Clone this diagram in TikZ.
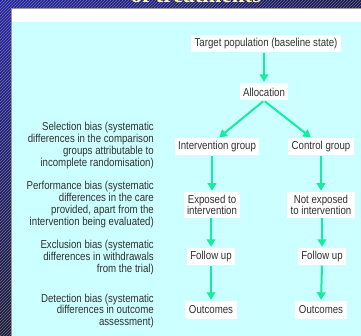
\documentclass[tikz,border=0pt]{standalone}
\usepackage{fontspec}
\newfontfamily\narrowsans{Liberation Sans}[FakeStretch=0.84]
\newfontfamily\titleserif{Liberation Serif}
\usetikzlibrary{arrows.meta,patterns,calc}
\definecolor{panelcyan}{RGB}{204,255,255}
\definecolor{navytop}{RGB}{36,36,196}
\definecolor{navybot}{RGB}{26,26,64}
\definecolor{navyright}{RGB}{22,22,86}
\definecolor{arrowgreen}{RGB}{22,236,160}
\definecolor{txtgray}{RGB}{48,48,48}
\definecolor{titleyellow}{RGB}{255,255,150}
\tikzset{
  boxnode/.style={fill=white, inner xsep=3.5pt, inner ysep=2.5pt, minimum height=17pt,
    align=center, text=txtgray, font=\narrowsans\fontsize{11.5}{11.7}\selectfont},
  biasnote/.style={anchor=east, inner sep=0pt, align=right, text=txtgray,
    font=\narrowsans\fontsize{11.5}{11.7}\selectfont},
  flowarrow/.style={draw=arrowgreen, line width=2pt,
    -{Triangle[length=7.5pt,width=8.5pt]}, shorten >=1.5pt}
}
\begin{document}
\begin{tikzpicture}[x=1pt,y=-1pt]
\useasboundingbox (0,0) rectangle (361,336);
% background
\shade[top color=navytop, bottom color=navybot] (0,0) rectangle (361,336);
\shade[left color=navytop, right color=navyright] (0,0) rectangle (361,8);
\fill[pattern=north east lines, pattern color=black!55] (0,0) rectangle (361,336);
\node[anchor=base, text=titleyellow, inner sep=0pt,
  font=\titleserif\bfseries\fontsize{23}{23}\selectfont] (title) at (196,3) {of treatments};
\fill[white] (11,8) rectangle (361,22);
\fill[panelcyan] (11,22) rectangle (361,336);
\draw[gray!80, line width=0.8pt] (11,336) -- (11,8) -- (361,8);

% flow nodes
\node[boxnode] (tp) at (266,44) {Target population (baseline state)};
\node[boxnode] (al) at (264,92) {Allocation};
\node[boxnode] (ig) at (217,147) {Intervention group};
\node[boxnode] (cg) at (321,147) {Control group};
\node[boxnode] (ex) at (212,205) {Exposed to\\intervention};
\node[boxnode] (nex) at (321,205) {Not exposed\\to intervention};
\node[boxnode] (fu1) at (211,257) {Follow up};
\node[boxnode] (fu2) at (322,257) {Follow up};
\node[boxnode] (oc1) at (211,310) {Outcomes};
\node[boxnode] (oc2) at (321,310) {Outcomes};

\coordinate (igend) at ($(ig.north)+(1,0)$);
\coordinate (cgend) at ($(cg.north)+(-9,0)$);

\draw[flowarrow] (tp.south -| al.north) -- (al.north);
\draw[flowarrow, shorten <=1pt] (al.south) -- (igend);
\draw[flowarrow, shorten <=1pt] (al.south) -- (cgend);
\draw[flowarrow] (ex.north |- ig.south) -- (ex.north);
\draw[flowarrow] (nex.north |- cg.south) -- (nex.north);
\draw[flowarrow] (fu1.north |- ex.south) -- (fu1.north);
\draw[flowarrow] (fu2.north |- nex.south) -- (fu2.north);
\draw[flowarrow] (fu1.south) -- (oc1.north);
\draw[flowarrow] (fu2.south) -- (oc2.north);

% bias notes
\node[biasnote] (selb) at (154,145.5) {Selection bias (systematic\\differences in the comparison\\groups attributable to\\incomplete randomisation)};
\node[biasnote] (perb) at (154,204.5) {Performance bias (systematic\\differences in the care\\provided, apart from the\\intervention being evaluated)};
\node[biasnote] (excb) at (154,257.5) {Exclusion bias (systematic\\differences in withdrawals\\from the trial)};
\node[biasnote] (detb) at (154,311) {Detection bias (systematic\\differences in outcome\\assessment)};
\end{tikzpicture}
\end{document}
